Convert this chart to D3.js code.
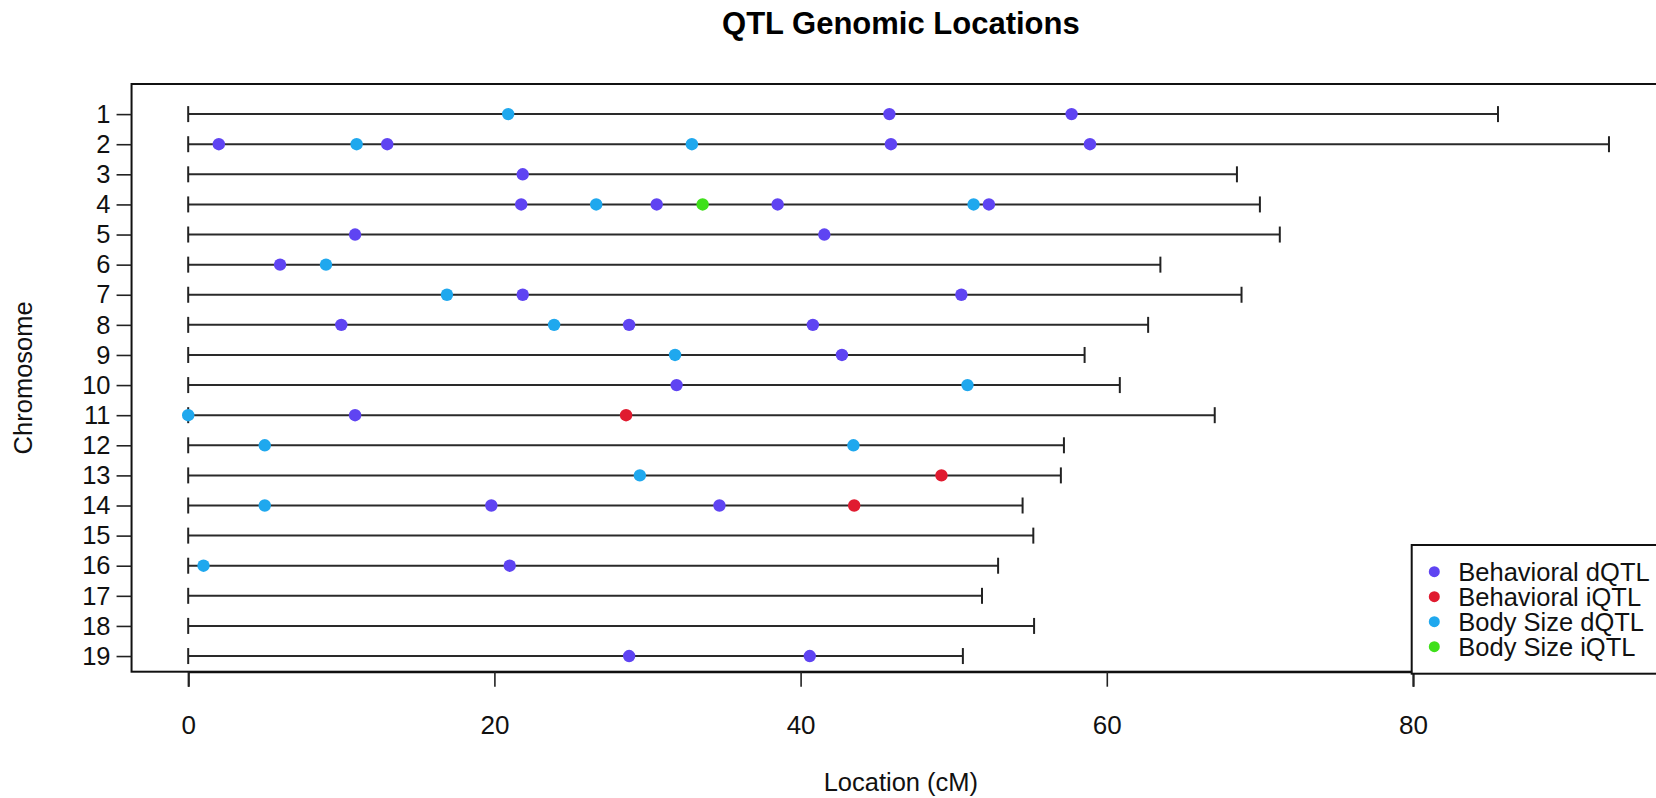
<!DOCTYPE html>
<html>
<head>
<meta charset="utf-8">
<script src="https://cdn.jsdelivr.net/npm/d3@7"></script>
<style>
  html, body { margin: 0; padding: 0; background: #fff; }
  svg { display: block; font-family: "Liberation Sans", Arial, sans-serif; }
</style>
</head>
<body>
<svg id="chart" width="1656" height="798"></svg>
<script>
// Chromosomes and their genetic lengths (cM)
const chromosomes = [1, 2, 3, 4, 5, 6, 7, 8, 9, 10, 11, 12, 13, 14, 15, 16, 17, 18, 19];
const chromLengths = [85.55, 92.8, 68.5, 70.0, 71.3, 63.5, 68.8, 62.7, 58.55, 60.85,
                      67.05, 57.2, 57.0, 54.5, 55.2, 52.9, 51.85, 55.25, 50.6];

// QTL positions as [chromosome, location in cM]
const behavioralDQTL = [
  [1, 45.8], [1, 57.7],
  [2, 2.0], [2, 13.0], [2, 45.9], [2, 58.9],
  [3, 21.85],
  [4, 21.75], [4, 30.6], [4, 38.5], [4, 52.3],
  [5, 10.9], [5, 41.55],
  [6, 6.0],
  [7, 21.85], [7, 50.5],
  [8, 10.0], [8, 28.8], [8, 40.8],
  [9, 42.7],
  [10, 31.9],
  [11, 10.9],
  [14, 19.8], [14, 34.7],
  [16, 21.0],
  [19, 28.8], [19, 40.6]
];
const behavioralIQTL = [[11, 28.6], [13, 49.2], [14, 43.5]];
const bodySizeDQTL = [
  [1, 20.9], [2, 11.0], [2, 32.9], [4, 26.65], [4, 51.3], [6, 9.0], [7, 16.9],
  [8, 23.9], [9, 31.8], [10, 50.9], [11, 0.0], [12, 5.0], [12, 43.45],
  [13, 29.5], [14, 5.0], [16, 1.0]
];
const bodySizeIQTL = [[4, 33.6]];

const seriesNames = ["Behavioral dQTL", "Behavioral iQTL", "Body Size dQTL", "Body Size iQTL"];
const seriesColors = ["#5f44f2", "#e01b30", "#1fa8ee", "#3fe01a"];
const seriesData = [behavioralDQTL, behavioralIQTL, bodySizeDQTL, bodySizeIQTL];
const xTicks = [0, 20, 40, 60, 80];

const svg = d3.select("#chart");

// Plot region
const plotTop = 84, plotBottom = 671.7;
const x = d3.scaleLinear().domain([0, 80]).range([188.2, 1413]);
const y = d3.scaleLinear().domain([0, 19.52]).range([plotTop, plotBottom]);
const plotLeft = x(-3.7), plotRight = x(96.8);

// Title
svg.append("text")
  .attr("x", (plotLeft + plotRight) / 2).attr("y", 34)
  .attr("text-anchor", "middle")
  .style("font-weight", "bold").style("font-size", "31px")
  .text("QTL Genomic Locations");

// Chromosome segments with end caps
const segs = svg.append("g");
chromosomes.forEach((c, i) => {
  const len = chromLengths[i];
  segs.append("line")
    .attr("x1", x(0)).attr("x2", x(len))
    .attr("y1", y(c)).attr("y2", y(c))
    .attr("stroke", "#2a2a2a").attr("stroke-width", 2);
  [0, len].forEach(v => {
    segs.append("line")
      .attr("x1", x(v)).attr("x2", x(v))
      .attr("y1", y(c) - 8).attr("y2", y(c) + 8)
      .attr("stroke", "#222").attr("stroke-width", 2);
  });
});

// QTL points
const drawOrder = [2, 3, 1, 0];
drawOrder.forEach(k => {
  svg.append("g").selectAll("circle")
    .data(seriesData[k])
    .join("circle")
    .attr("cx", d => x(d[1]))
    .attr("cy", d => y(d[0]))
    .attr("r", 6.2)
    .attr("fill", seriesColors[k]);
});

// Plot frame
svg.append("rect")
  .attr("x", plotLeft).attr("y", plotTop)
  .attr("width", plotRight - plotLeft).attr("height", plotBottom - plotTop)
  .attr("fill", "none").attr("stroke", "#111").attr("stroke-width", 2);

// X axis
const xAxis = d3.axisBottom(x).tickValues(xTicks).tickSize(15).tickPadding(29)
  .tickFormat(d3.format("d"));
const gx = svg.append("g").attr("transform", `translate(0,${plotBottom})`).call(xAxis);
gx.select(".domain").attr("stroke", "#111").attr("stroke-width", 2);
gx.selectAll(".tick line").attr("stroke", "#222").attr("stroke-width", 1.6);
gx.selectAll(".tick text").style("font-size", "26px").attr("fill", "#111")
  .style("font-family", "'Liberation Sans', Arial, sans-serif");

// Y axis
const yAxis = d3.axisLeft(y).tickValues(chromosomes).tickSize(15).tickPadding(6)
  .tickFormat(d3.format("d"));
const gy = svg.append("g").attr("transform", `translate(${plotLeft},0)`).call(yAxis);
gy.select(".domain").remove();
gy.selectAll(".tick line").attr("stroke", "#222").attr("stroke-width", 1.6);
gy.selectAll(".tick text").style("font-size", "25.5px").attr("fill", "#111")
  .style("font-family", "'Liberation Sans', Arial, sans-serif");

// Axis titles
svg.append("text")
  .attr("x", (plotLeft + plotRight) / 2).attr("y", 791)
  .attr("text-anchor", "middle").style("font-size", "25.5px").attr("fill", "#111")
  .text("Location (cM)");
svg.append("text")
  .attr("transform", `translate(32,${(plotTop + plotBottom) / 2}) rotate(-90)`)
  .attr("text-anchor", "middle").style("font-size", "25.5px").attr("fill", "#111")
  .text("Chromosome");

// Legend
const legX = 1411.7, legY = 545;
svg.append("rect")
  .attr("x", legX).attr("y", legY).attr("width", 320).attr("height", plotBottom - legY + 2)
  .attr("fill", "#fff").attr("stroke", "#111").attr("stroke-width", 2);
const leg = svg.append("g");
seriesNames.forEach((name, i) => {
  const cy = legY + 26.7 + i * 25;
  leg.append("circle").attr("cx", legX + 22.6).attr("cy", cy).attr("r", 5.5)
    .attr("fill", seriesColors[i]);
  leg.append("text").attr("x", legX + 46.6).attr("y", cy + 8.8)
    .style("font-size", "25.5px").attr("fill", "#111").text(name);
});
</script>
</body>
</html>
